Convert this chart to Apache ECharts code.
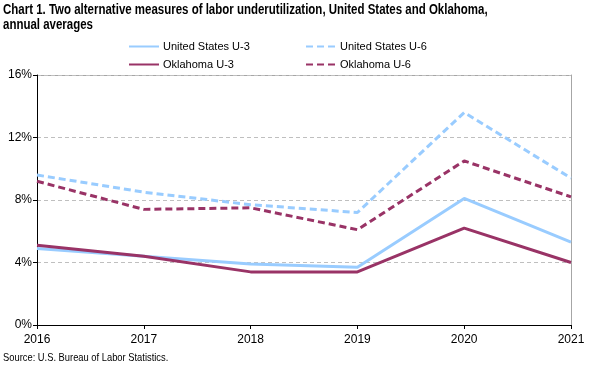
<!DOCTYPE html>
<html>
<head>
<meta charset="utf-8">
<script src="https://cdn.jsdelivr.net/npm/echarts@6/dist/echarts.min.js"></script>
<style>
html,body{margin:0;padding:0;background:#fff;}
#chart{width:596px;height:367px;}
</style>
</head>
<body>
<div id="chart"></div>
<script>
var years = ['2016','2017','2018','2019','2020','2021'];
var usU3 = [4.9, 4.4, 3.9, 3.7, 8.1, 5.3];
var usU6 = [9.6, 8.5, 7.7, 7.2, 13.6, 9.4];
var okU3 = [5.1, 4.4, 3.4, 3.4, 6.2, 4.0];
var okU6 = [9.2, 7.4, 7.5, 6.1, 10.5, 8.2];
var titleText = 'Chart 1. Two alternative measures of labor underutilization, United States and Oklahoma,\nannual averages';
var sourceText = 'Source: U.S. Bureau of Labor Statistics.';

var blue = '#99CCFF';
var maroon = '#993366';
var font = 'Arial, "Liberation Sans", sans-serif';

var chart = echarts.init(document.getElementById('chart'), null, {renderer: 'canvas'});
function line(name, data, color, dashed) {
  return {
    name: name, type: 'line', data: data, symbol: 'none', smooth: false,
    lineStyle: {color: color, width: 3, type: dashed ? [7, 4] : 'solid'},
    itemStyle: {color: color}
  };
}
var legendBase = {
  orient: 'vertical', top: 41, padding: 0, itemWidth: 30, itemHeight: 3, itemGap: 7,
  itemStyle: {opacity: 0, borderWidth: 0},
  textStyle: {fontFamily: font, fontSize: 11, color: '#000', padding: [0, 0, 0, -1]}
};
chart.setOption({
  animation: false,
  textStyle: {fontFamily: font},
  legend: [
    Object.assign({}, legendBase, {left: 128, data: ['United States U-3', 'Oklahoma U-3']}),
    Object.assign({}, legendBase, {left: 305, data: ['United States U-6', 'Oklahoma U-6']})
  ],
  grid: {left: 37, right: 25, top: 75, bottom: 42, containLabel: false, show: false},
  xAxis: {
    type: 'category', data: years, boundaryGap: false,
    axisLine: {lineStyle: {color: '#000', width: 1}},
    axisTick: {show: true, length: 4, lineStyle: {color: '#000'}},
    axisLabel: {color: '#000', fontSize: 12, fontFamily: font, margin: 9,
      showMinLabel: true, showMaxLabel: true},
    splitLine: {show: false}
  },
  yAxis: [{
    type: 'value', min: 0, max: 16, interval: 4,
    axisLine: {show: true, lineStyle: {color: '#000', width: 1}},
    axisTick: {show: true, length: 4, inside: false, lineStyle: {color: '#000'}},
    axisLabel: {color: '#000', fontSize: 12, fontFamily: font, margin: 5,
      formatter: function (v) { return v + '%'; }},
    splitLine: {show: true, lineStyle: {color: '#BFBFBF', type: [4, 3], width: 1}}
  }, {
    type: 'value', min: 0, max: 16, interval: 16, position: 'right',
    axisLine: {show: true, lineStyle: {color: '#A6A6A6', width: 1}},
    axisTick: {show: false}, axisLabel: {show: false}, splitLine: {show: false}
  }],
  series: [
    line('United States U-6', usU6, blue, true),
    line('Oklahoma U-6', okU6, maroon, true),
    line('United States U-3', usU3, blue, false),
    line('Oklahoma U-3', okU3, maroon, false)
  ],
  graphic: [{
    type: 'line', z: 0,
    shape: {x1: 37, y1: 75.5, x2: 571, y2: 75.5},
    style: {stroke: '#A6A6A6', lineWidth: 1}
  }, {
    type: 'text', x: 3, y: 3, scaleX: 0.82, originX: 0, originY: 0,
    style: {text: titleText, font: 'bold 14px Arial, "Liberation Sans", sans-serif',
      fill: '#000', lineHeight: 15, verticalAlign: 'top', align: 'left'}
  }, {
    type: 'text', x: 3, y: 352, scaleX: 0.85, originX: 0, originY: 0,
    style: {text: sourceText, font: '11px Arial, "Liberation Sans", sans-serif',
      fill: '#000', verticalAlign: 'top', align: 'left'}
  }]
});
</script>
</body>
</html>
